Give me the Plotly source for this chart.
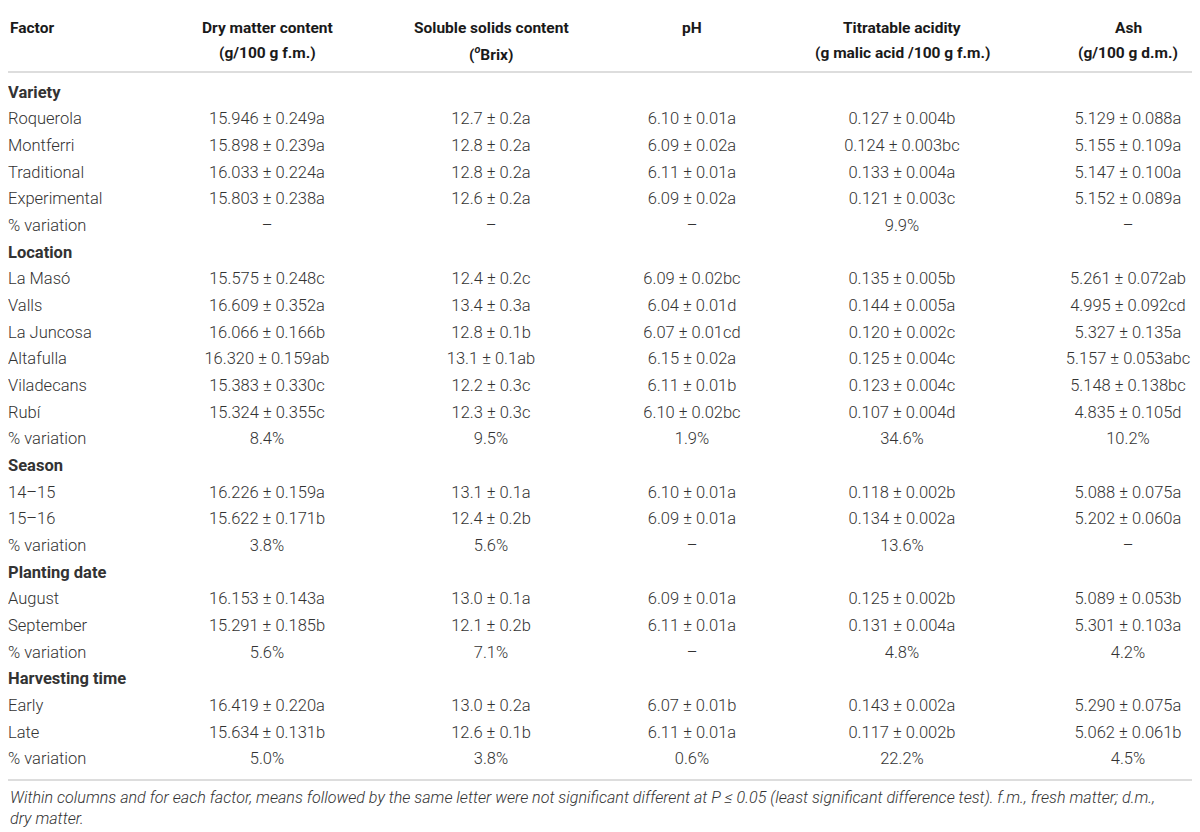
import plotly.graph_objects as go

# Table content
factors = [
    "Variety", "Roquerola", "Montferri", "Traditional", "Experimental", "% variation",
    "Location", "La Masó", "Valls", "La Juncosa", "Altafulla", "Viladecans", "Rubí", "% variation",
    "Season", "14–15", "15–16", "% variation",
    "Planting date", "August", "September", "% variation",
    "Harvesting time", "Early", "Late", "% variation",
]
group_rows = ["Variety", "Location", "Season", "Planting date", "Harvesting time"]

dry_matter = [
    "", "15.946 ± 0.249a", "15.898 ± 0.239a", "16.033 ± 0.224a", "15.803 ± 0.238a", "–",
    "", "15.575 ± 0.248c", "16.609 ± 0.352a", "16.066 ± 0.166b", "16.320 ± 0.159ab",
    "15.383 ± 0.330c", "15.324 ± 0.355c", "8.4%",
    "", "16.226 ± 0.159a", "15.622 ± 0.171b", "3.8%",
    "", "16.153 ± 0.143a", "15.291 ± 0.185b", "5.6%",
    "", "16.419 ± 0.220a", "15.634 ± 0.131b", "5.0%",
]
soluble_solids = [
    "", "12.7 ± 0.2a", "12.8 ± 0.2a", "12.8 ± 0.2a", "12.6 ± 0.2a", "–",
    "", "12.4 ± 0.2c", "13.4 ± 0.3a", "12.8 ± 0.1b", "13.1 ± 0.1ab",
    "12.2 ± 0.3c", "12.3 ± 0.3c", "9.5%",
    "", "13.1 ± 0.1a", "12.4 ± 0.2b", "5.6%",
    "", "13.0 ± 0.1a", "12.1 ± 0.2b", "7.1%",
    "", "13.0 ± 0.2a", "12.6 ± 0.1b", "3.8%",
]
ph = [
    "", "6.10 ± 0.01a", "6.09 ± 0.02a", "6.11 ± 0.01a", "6.09 ± 0.02a", "–",
    "", "6.09 ± 0.02bc", "6.04 ± 0.01d", "6.07 ± 0.01cd", "6.15 ± 0.02a",
    "6.11 ± 0.01b", "6.10 ± 0.02bc", "1.9%",
    "", "6.10 ± 0.01a", "6.09 ± 0.01a", "–",
    "", "6.09 ± 0.01a", "6.11 ± 0.01a", "–",
    "", "6.07 ± 0.01b", "6.11 ± 0.01a", "0.6%",
]
titratable_acidity = [
    "", "0.127 ± 0.004b", "0.124 ± 0.003bc", "0.133 ± 0.004a", "0.121 ± 0.003c", "9.9%",
    "", "0.135 ± 0.005b", "0.144 ± 0.005a", "0.120 ± 0.002c", "0.125 ± 0.004c",
    "0.123 ± 0.004c", "0.107 ± 0.004d", "34.6%",
    "", "0.118 ± 0.002b", "0.134 ± 0.002a", "13.6%",
    "", "0.125 ± 0.002b", "0.131 ± 0.004a", "4.8%",
    "", "0.143 ± 0.002a", "0.117 ± 0.002b", "22.2%",
]
ash = [
    "", "5.129 ± 0.088a", "5.155 ± 0.109a", "5.147 ± 0.100a", "5.152 ± 0.089a", "–",
    "", "5.261 ± 0.072ab", "4.995 ± 0.092cd", "5.327 ± 0.135a", "5.157 ± 0.053abc",
    "5.148 ± 0.138bc", "4.835 ± 0.105d", "10.2%",
    "", "5.088 ± 0.075a", "5.202 ± 0.060a", "–",
    "", "5.089 ± 0.053b", "5.301 ± 0.103a", "4.2%",
    "", "5.290 ± 0.075a", "5.062 ± 0.061b", "4.5%",
]

headers = [
    ("Dry matter content", "(g/100 g f.m.)"),
    ("Soluble solids content", "(<sup><i>o</i></sup>Brix)"),
    ("pH", ""),
    ("Titratable acidity", "(g malic acid /100 g f.m.)"),
    ("Ash", "(g/100 g d.m.)"),
]
footnote = [
    "Within columns and for each factor, means followed by the same letter were not "
    "significant different at P ≤ 0.05 (least significant difference test). f.m., "
    "fresh matter; d.m.,",
    "dry matter.",
]

# the page body has an 8px margin, so the axes are set in window pixels
PAD = 8
W, H = 1200, 832
col_x = [267, 491, 692, 902, 1128]
row_top, row_step = 93.5, 26.67
rows_y = [row_top + i * row_step for i in range(len(factors))]

FONT = "Roboto"
body = dict(family=FONT, size=16.5, color="#333333", weight=300)
bold = dict(family=FONT, size=15.5, color="#1a1a1a", weight="bold")

fig = go.Figure()

labels = [f"<b>{f}</b>" if f in group_rows else f for f in factors]
fig.add_trace(go.Scatter(
    x=[PAD] * len(factors), y=rows_y, text=labels, mode="text",
    textposition="middle right", textfont=body, hoverinfo="skip",
    cliponaxis=False,
))
for cx, col in zip(col_x, [dry_matter, soluble_solids, ph, titratable_acidity, ash]):
    fig.add_trace(go.Scatter(
        x=[cx] * len(col), y=rows_y, text=col, mode="text",
        textposition="middle center", textfont=body, hoverinfo="skip",
    ))

# header
fig.add_annotation(x=PAD, y=28, text="<b>Factor</b>", showarrow=False,
                   xanchor="left", yanchor="middle", font=bold)
for cx, (h1, h2) in zip(col_x, headers):
    fig.add_annotation(x=cx, y=28, text=f"<b>{h1}</b>", showarrow=False,
                       xanchor="center", yanchor="middle", font=bold)
    if h2:
        fig.add_annotation(x=cx, y=53, text=f"<b>{h2}</b>", showarrow=False,
                           xanchor="center", yanchor="middle", font=bold)

# footnote, one annotation per line
for yy, line in zip([797, 818], footnote):
    fig.add_annotation(x=PAD, y=yy, text=f"<i>{line}</i>", showarrow=False,
                       xanchor="left", yanchor="middle", align="left",
                       font=dict(family=FONT, size=16.1, color="#333333", weight=300))

# horizontal rules
for yy in [6, 72, 780]:
    fig.add_shape(type="line", x0=PAD, x1=1195, y0=yy, y1=yy,
                  line=dict(color="#dddddd", width=2))

fig.update_layout(
    width=W - PAD, height=H - PAD,
    margin=dict(l=0, r=0, t=0, b=0),
    paper_bgcolor="white", plot_bgcolor="white",
    showlegend=False,
    xaxis=dict(range=[PAD, W], visible=False, fixedrange=True),
    yaxis=dict(range=[H, PAD], visible=False, fixedrange=True),
)
fig.update_shapes(xref="x", yref="y")

fig.write_html("out.html")
